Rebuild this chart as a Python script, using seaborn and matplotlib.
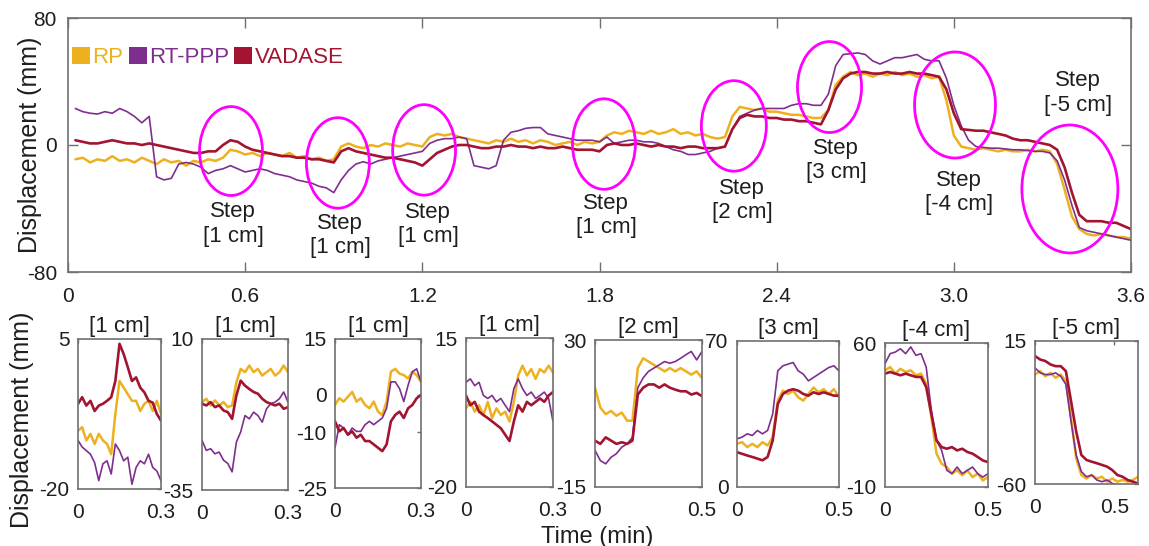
import numpy as np
import pandas as pd
import matplotlib
matplotlib.use("Agg")
import matplotlib.pyplot as plt
from matplotlib.patches import Ellipse, Patch
import seaborn as sns

# ---------------------------------------------------------------- data
series_names = ["RP", "RT-PPP", "VADASE"]
series_colors = {"RP": "#EDB120", "RT-PPP": "#7E2F8E", "VADASE": "#A2142F"}
series_lw = {"RP": 1.8, "RT-PPP": 1.2, "VADASE": 1.9}

# full record, one value every 0.025 min (0.025 ... 3.6 min), displacement in mm
main_dt = 0.025
main_rp = [
    -9, -8, -11, -9, -10, -7, -10, -9, -11, -8, -10, -12,
    -9, -11, -10, -13, -10, -11, -9, -10, -8, -3, -4, -6,
    -5, -7, -5, -6, -7, -5, -8, -7, -9, -8, -10, -9,
    -1, 1, -1, -2, 0, -1, 1, 0, -1, 1, 0, -1,
    5, 7, 6, 7, 5, 4, 3, 2, 1, 3, 2, 4,
    2, 3, 1, 3, 2, 0, 1, 2, 0, 2, 1, 2,
    6, 8, 7, 9, 8, 7, 9, 7, 8, 10, 7, 8,
    6, 7, 5, 4, 5, 18, 24, 23, 22, 23, 21, 21,
    20, 19, 19, 18, 17, 17, 22, 38, 43, 46, 44, 45,
    43, 45, 44, 46, 44, 45, 43, 44, 42, 43, 28, 6,
    -1, -2, -3, -2, -3, -4, -3, -4, -4, -3, -4, -3,
    -4, -12, -28, -45, -53, -56, -57, -56, -57, -58, -58, -59,
]
main_rtppp = [
    23, 21, 20, 19.5, 21, 20, 23, 21, 18, 14, 18, -20,
    -22, -21, -12, -11, -12, -14, -18, -16, -15, -13, -15, -17,
    -16, -15, -16, -18, -19, -20, -22, -23, -24, -26, -27, -30,
    -22, -16, -12, -10.5, -12, -10, -9, -8, -7, -6, -5, -4,
    1, 3, 4, 4, 5, 4, -13, -14, -15, -13, 3, 8,
    9, 10.5, 11, 11, 7, 6, 5, 4, 3, 3, 3, 2,
    5, 1, 2, 3, 3, 2, 2, 1, -1, -3, -4, -6,
    -6, -5, -4, -2, -1, 10, 18, 20, 22, 23, 23, 23,
    23, 25, 26, 26, 25, 25, 32, 50, 57, 57.5, 58, 57,
    53, 51, 53, 55, 55, 56, 57, 54, 53, 53, 42, 25,
    12, 3, -1, -1.5, -2, -2, -2.5, -3, -3, -3.5, -4, -4,
    -5, -10, -22, -38, -52, -54, -55, -56, -57, -58, -59, -60,
]
main_vadase = [
    3, 2, 1, 1, 2, 3, 2, 1, 1, 0, 1, 0,
    -1, -2, -3, -4, -5, -5, -4, -4, 0, 3, 2, -1,
    -3, -4, -5, -6, -7, -7, -8, -8, -9, -9, -10, -11,
    -4, -2, -4, -5, -6, -7, -8, -8, -9, -10, -11, -13,
    -9, -5, -3, -1, 0, 0, -1, -2, -2, -1, -1, 0,
    -1, -1, -2, -1, -2, -2, -1, -2, -3, -3, -3, -4,
    0, 1, 0, 0, 1, 0, -1, 0, -1, -1, -2, -1,
    -1, -2, -2, -2, -1, 10, 17, 19, 18, 18, 17, 17,
    16, 16, 15, 15, 14, 13, 22, 35, 42, 45, 46, 46,
    45, 45, 46, 45, 45, 46, 45, 45, 44, 43, 35, 20,
    10, 9.5, 9, 9, 8, 7, 6, 4, 3, 3, 2, 1,
    0, -3, -14, -30, -44, -48, -48, -48, -49, -49, -51, -53,
]

# step events marked on the full record
step_labels = ["[1 cm]", "[1 cm]", "[1 cm]", "[1 cm]", "[2 cm]", "[3 cm]", "[-4 cm]", "[-5 cm]"]
ring_t = [0.552, 0.914, 1.206, 1.815, 2.255, 2.579, 3.004, 3.393]
ring_mm = [-3.8, -11.3, -3.1, 0.6, 12.0, 36.5, 25.2, -27.7]
ring_w = [0.213, 0.213, 0.213, 0.213, 0.22, 0.217, 0.274, 0.325]
ring_h = [56, 57, 57, 57, 57, 57.3, 66.8, 80.6]
note_t = [0.559, 0.921, 1.219, 1.822, 2.283, 2.601, 3.017, 3.42]
note_mm = [-49.8, -57, -50, -44.6, -35, -10, -30, 32.8]

# close-up windows around each step (21 samples across each window)
win_len = [0.3, 0.3, 0.3, 0.3, 0.5, 0.5, 0.5, 0.65]
win_rp = [
    [-10.3, -9.7, -11.9, -10.8, -12.5, -10.8, -11.9, -12.5, -14.2, -7.5, -2, -3.1, -4.2, -5.3, -5.3, -7, -5.8, -5.3, -7, -5.3, -7.5],
    [-8.8, -7.8, -9.8, -8.3, -9.8, -8.8, -10.3, -9.8, -2.9, 1.1, 0.1, 2.1, 0.1, 1.1, -0.9, 0.1, 1.1, -0.9, 0.1, 2.1, 0.1],
    [-2.7, -0.9, -1.8, -0.5, 0.8, -1.8, -0.9, -2.7, -3.6, -1.8, -4.5, -5.4, -1.8, 6.2, 7, 5.7, 5.3, 4.4, 6.2, 5.3, 3.5],
    [-1.5, 0, -2.3, -0.8, -3.1, 0, -3.8, -1.5, -3.1, -2.3, -4.6, 0, 6.2, 8.5, 6.2, 7.7, 5.4, 7.7, 6.9, 8.5, 6.9],
    [15.4, 9.3, 7.3, 8.3, 6.8, 7.8, 5.3, 5.3, 21.4, 24.4, 23.4, 22.4, 21.4, 20.4, 21.4, 20.4, 21.4, 20.4, 19.4, 20.4, 18.4],
    [20.7, 21.5, 19.1, 20.7, 19.1, 21.5, 19.9, 23.9, 41.4, 46.2, 44.6, 46.2, 43, 41.4, 44.6, 47.7, 45.4, 46.9, 44.6, 46.9, 43],
    [46.7, 48.3, 45.1, 47.5, 45.9, 46.7, 44.3, 45.1, 40.2, 24, 6.2, 1.3, -0.3, -3.5, -1.9, -4.3, -1.9, -5.2, -3.5, -6.8, -5.2],
    [-2.6, -0.8, -3.5, -1.7, -4.3, -2.6, -6.1, -25.4, -46.5, -55.3, -57.1, -55.3, -57.1, -56.2, -58.8, -57.1, -58.8, -57.9, -58.8, -57.9, -56.2],
]
win_rtppp = [
    [-11.9, -13, -13.6, -14.2, -15.6, -18.6, -15.8, -15.3, -17.5, -12.5, -13.6, -15.3, -14.7, -19.2, -16.4, -15.3, -15.8, -14.2, -16.4, -17, -18.6],
    [-20.2, -23.2, -22.7, -24.2, -23.7, -26.1, -27.1, -29.6, -20.7, -17.7, -12.8, -13.8, -11.8, -12.8, -14.8, -10.8, -9.3, -8.8, -7.8, -5.8, -8.8],
    [-14.2, -8, -8.9, -10.7, -8.9, -9.8, -9.8, -8, -7.1, -8, -7.1, -6.2, -3.6, 3.5, 3.5, 1.7, -1.8, 2.6, 6.2, 7, 3.5],
    [4.6, 5.4, 3.8, 4.6, 1.5, 0.8, 1.5, 0, 0.8, -0.8, -2.3, 3.1, 5.4, 3.1, 1.5, 2.3, 0.8, 1.5, 2.3, 0.8, -4.6],
    [-3.8, -6.9, -7.9, -5.9, -4.8, -2.8, -1.8, 0.2, 15.4, 18.4, 20.4, 21.4, 22.4, 23.4, 22.9, 23.4, 24.4, 25.5, 26.5, 23.9, 26.5],
    [23.1, 23.9, 25.5, 24.7, 27.1, 25.5, 27.1, 35, 55.7, 58.1, 58.9, 59.7, 55.7, 54.1, 50.9, 52.5, 54.1, 55.7, 57.3, 58.1, 55.7],
    [50, 54.8, 55.6, 57.2, 54.8, 58.1, 54, 54.8, 48.3, 27.3, 12.7, 7.8, -1.9, -3.5, -0.3, -3.5, -1.9, -0.3, -3.5, -5.2, -3.5],
    [0.9, -1.7, -2.6, -2.6, -1.7, -3.5, -7.8, -27.2, -44.8, -53.5, -56.2, -55.3, -57.9, -58.8, -57.9, -59.7, -60.5, -60.5, -61.4, -61.4, -62],
]
win_vadase = [
    [-5.8, -4.7, -6.1, -5.3, -7, -6.1, -5.8, -5.3, -4.7, -2, 4.2, 2.5, 0.3, -2, -1.4, -3.1, -3.9, -5.3, -5.6, -7.5, -8.6],
    [-9.3, -9.8, -8.8, -10.3, -9.8, -11.3, -11.8, -13.8, -6.8, -2.4, -3.9, -4.9, -5.8, -6.3, -7.8, -8.8, -9.3, -9.8, -9.3, -10.8, -10.3],
    [-7.1, -9.8, -8.9, -10.7, -9.8, -11.5, -10.7, -12.4, -12.4, -13.3, -14.2, -15.1, -13.3, -7.1, -5.4, -4.5, -6.2, -3.6, -2.7, -0.9, 0],
    [1.5, -0.8, 0, -2.3, -3.1, -3.8, -4.6, -5.4, -6.2, -7.7, -9.2, -4.6, -0.8, -2.3, 0, -0.8, 0, 0.8, 0, 1.5, 2.3],
    [-0.8, -1.8, 0.2, -0.8, -1.8, -1.3, -1.8, -0.8, 13.3, 15.4, 16.4, 16.4, 15.4, 16.4, 15.4, 14.8, 14.3, 14.3, 13.3, 13.8, 12.8],
    [16.7, 15.9, 15.1, 14.4, 13.6, 12.8, 14.4, 22.3, 39.8, 44.6, 46.2, 46.9, 46.2, 44.6, 43.8, 45.4, 44.6, 45.4, 44.6, 43.8, 43.8],
    [45.1, 45.9, 45.1, 44.3, 45.1, 44.3, 43.5, 43.5, 38.6, 25.6, 12.7, 9.4, 8.6, 9.4, 7.8, 8.6, 7, 6.2, 4.6, 2.9, 2.1],
    [7.1, 5.3, 4.5, 2.7, 1.8, 1.8, -0.8, -16.6, -32.5, -44.8, -47.4, -48.3, -49.1, -50, -50.9, -52.7, -55.3, -56.2, -57.9, -58.8, -59.7],
]
win_yticks = [[-20, 5], [-35, 10], [-25, -10, 0, 15], [-20, 15],
              [-15, 30], [0, 70], [-10, 60], [-60, 15]]
win_xticks = [[0, 0.3]] * 4 + [[0, 0.5]] * 4
win_xticklabels = [["0", "0.3"]] * 4 + [["0", "0.5"]] * 4

main_xticks = [0, 0.6, 1.2, 1.8, 2.4, 3.0, 3.6]
main_xticklabels = ["0", "0.6", "1.2", "1.8", "2.4", "3.0", "3.6"]
main_yticks = [-80, 0, 80]

# ---------------------------------------------------------------- style
sns.set_theme(style="white")
plt.rcParams["font.family"] = ["Liberation Sans", "DejaVu Sans"]
plt.rcParams["axes.unicode_minus"] = False
frame_col = "#707070"
text_col = "#1e1e1e"
ring_col = "#FF00FF"

W, H = 1149, 546
fig = plt.figure(figsize=(W / 100, H / 100), dpi=100)


def px_axes(left, right, top, bottom):
    return fig.add_axes([left / W, 1 - bottom / H, (right - left) / W, (bottom - top) / H])


def draw_series(ax, t, values_by_name):
    frame = pd.concat(
        [pd.DataFrame({"t": t, "mm": v, "series": n}) for n, v in values_by_name.items()],
        ignore_index=True,
    )
    for name in series_names:
        part = frame[frame["series"] == name]
        sns.lineplot(data=part, x="t", y="mm", ax=ax, color=series_colors[name],
                     lw=series_lw[name], estimator=None, sort=False, legend=False)
    ax.set_xlabel("")
    ax.set_ylabel("")


def style_frame(ax):
    for s in ax.spines.values():
        s.set_visible(True)
        s.set_color(frame_col)
        s.set_linewidth(1.2)


# ---------------------------------------------------------------- full record
ax = px_axes(68, 1131, 18, 272)
t_main = main_dt * np.arange(1, len(main_rp) + 1)
draw_series(ax, t_main, {"RP": main_rp, "RT-PPP": main_rtppp, "VADASE": main_vadase})
ax.set_xlim(0, 3.6)
ax.set_ylim(-80, 80)
ax.set_xticks(main_xticks)
ax.set_xticklabels(main_xticklabels)
ax.set_yticks(main_yticks)
ax.tick_params(direction="in", length=7, width=1, color=frame_col, labelcolor=text_col,
               labelsize=15, top=True, right=True, bottom=True, left=True)
ax.tick_params(axis="x", pad=11)
ax.tick_params(axis="y", pad=8)
style_frame(ax)

for t0, y0, w, h in zip(ring_t, ring_mm, ring_w, ring_h):
    ax.add_patch(Ellipse((t0, y0), w, h, fill=False, ec=ring_col, lw=2.0, zorder=5))
for t0, y0, lab in zip(note_t, note_mm, step_labels):
    ax.text(t0, y0, "Step\n" + lab, ha="center", va="center", fontsize=16,
            color=text_col, linespacing=1.2)

handles = [Patch(facecolor=series_colors[n], edgecolor="none", label=n) for n in series_names]
leg = ax.legend(handles=handles, loc="center left", bbox_to_anchor=(0.004, 0.846),
                ncol=3, frameon=False, fontsize=16, handlelength=0.8, handleheight=0.8,
                handletextpad=0.1, columnspacing=0.25, borderaxespad=0.0, borderpad=0.0)
for txt, n in zip(leg.get_texts(), series_names):
    txt.set_color(series_colors[n])

fig.text(30 / W, 1 - 145 / H, "Displacement (mm)", rotation=90, ha="center", va="center",
         fontsize=18, color=text_col)

# ---------------------------------------------------------------- close-ups
boxes = [(78, 161, 339, 489), (202, 288, 339, 490), (335, 421, 339, 488), (466, 553, 338, 487),
         (595, 702, 340, 487), (737, 839, 341, 487), (885, 988, 343, 487), (1035, 1138, 341, 484)]

for i, box in enumerate(boxes):
    axi = px_axes(*box)
    n = len(win_rp[i])
    t_win = np.linspace(0, win_len[i], n)
    draw_series(axi, t_win, {"RP": win_rp[i], "RT-PPP": win_rtppp[i], "VADASE": win_vadase[i]})
    axi.set_xlim(0, win_len[i])
    axi.set_ylim(win_yticks[i][0], win_yticks[i][-1])
    axi.set_xticks(win_xticks[i])
    axi.set_xticklabels(win_xticklabels[i])
    axi.set_yticks(win_yticks[i])
    axi.set_yticklabels([str(v) for v in win_yticks[i]])
    axi.tick_params(direction="in", length=3, width=1, color=frame_col, labelcolor=text_col,
                    labelsize=15, top=True, right=True)
    axi.tick_params(axis="x", pad=10)
    axi.tick_params(axis="y", pad=6)
    axi.set_title(step_labels[i], fontsize=16, color=text_col, pad=5)
    style_frame(axi)

fig.text(22 / W, 1 - 420 / H, "Displacement (mm)", rotation=90, ha="center", va="center",
         fontsize=18, color=text_col)
fig.text(597 / W, 1 - 537 / H, "Time (min)", ha="center", va="center",
         fontsize=17, color=text_col)

fig.savefig("out.png", dpi=100, facecolor="white")
